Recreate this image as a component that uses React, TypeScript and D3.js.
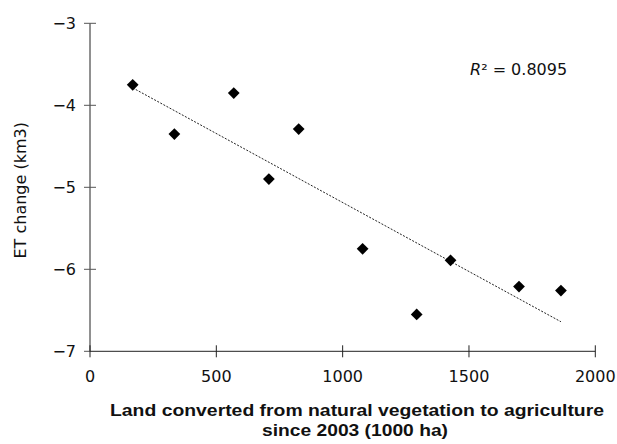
import React from "react";
import * as d3 from "d3";

const landConverted = [169, 334, 569, 708, 826, 1079, 1293, 1427, 1698, 1864];
const etChange = [-3.75, -4.35, -3.85, -4.9, -4.29, -5.75, -6.55, -5.89, -6.21, -6.26];
const xTicks = [0, 500, 1000, 1500, 2000];
const yTicks = [-3, -4, -5, -6, -7];
const r2Label = "0.8095";

const W = 617;
const H = 444;
const font = "'DejaVu Sans', sans-serif";
const boldFont = "'Liberation Sans', Arial, sans-serif";

export default function App() {
  const x = d3.scaleLinear().domain([0, 2000]).range([90, 595.3]);
  const y = d3.scaleLinear().domain([-7, -3]).range([351.3, 23.3]);

  const n = landConverted.length;
  const mx = d3.mean(landConverted)!;
  const my = d3.mean(etChange)!;
  let sxy = 0, sxx = 0;
  for (let i = 0; i < n; i++) {
    sxy += (landConverted[i] - mx) * (etChange[i] - my);
    sxx += (landConverted[i] - mx) ** 2;
  }
  const slope = sxy / sxx;
  const intercept = my - slope * mx;
  const x0 = d3.min(landConverted)!;
  const x1 = d3.max(landConverted)!;
  const line = d3.line<number>().x((d) => x(d)).y((d) => y(intercept + slope * d));

  const diamond = d3.symbol().type(d3.symbolDiamond2).size(88)();

  return (
    <svg width={W} height={H} style={{ position: "absolute", left: 0, top: 0 }}>
      <rect width={W} height={H} fill="#fff" />
      <line x1={x(0)} x2={x(0)} y1={y(-3)} y2={y(-7)} stroke="#222" strokeWidth={1} />
      <line x1={x(0)} x2={x(2000)} y1={y(-7)} y2={y(-7)} stroke="#222" strokeWidth={1} />
      {yTicks.map((t) => (
        <g key={"y" + t}>
          <line x1={x(0) - 6} x2={x(0) + (t === -7 ? 0 : 6)} y1={y(t)} y2={y(t)} stroke="#555" />
          <text x={76} y={y(t)} dy="0.36em" textAnchor="end" fontFamily={font} fontSize={16} fill="#111">
            {"\u2212" + Math.abs(t)}
          </text>
        </g>
      ))}
      {xTicks.map((t) => (
        <g key={"x" + t}>
          <line x1={x(t)} x2={x(t)} y1={y(-7) - 6} y2={y(-7) + 6} stroke="#222" />
          <text x={x(t)} y={382} textAnchor="middle" fontFamily={font} fontSize={16} fill="#111">
            {t}
          </text>
        </g>
      ))}
      <path d={line([x0, x1]) || ""} fill="none" stroke="#222" strokeWidth={1} strokeDasharray="2,1.5" />
      {landConverted.map((v, i) => (
        <path key={i} d={diamond || ""} transform={`translate(${x(v)},${y(etChange[i])})`} fill="#000" />
      ))}
      <text x={470} y={75} fontFamily={font} fontSize={16} fill="#111">
        <tspan fontStyle="italic">R</tspan>
        <tspan>{"\u00b2 = " + r2Label}</tspan>
      </text>
      <text
        transform={`translate(26,${y(-5) + 3}) rotate(-90)`}
        textAnchor="middle"
        fontFamily={font}
        fontSize={16}
        fill="#111"
      >
        ET change (km3)
      </text>
      <text x={357} y={416} textAnchor="middle" fontFamily={boldFont} fontSize={17} fontWeight="bold" fill="#111"
        textLength={494} lengthAdjust="spacingAndGlyphs">
        Land converted from natural vegetation to agriculture
      </text>
      <text x={355} y={436} textAnchor="middle" fontFamily={boldFont} fontSize={17} fontWeight="bold" fill="#111"
        textLength={186} lengthAdjust="spacingAndGlyphs">
        since 2003 (1000 ha)
      </text>
    </svg>
  );
}
